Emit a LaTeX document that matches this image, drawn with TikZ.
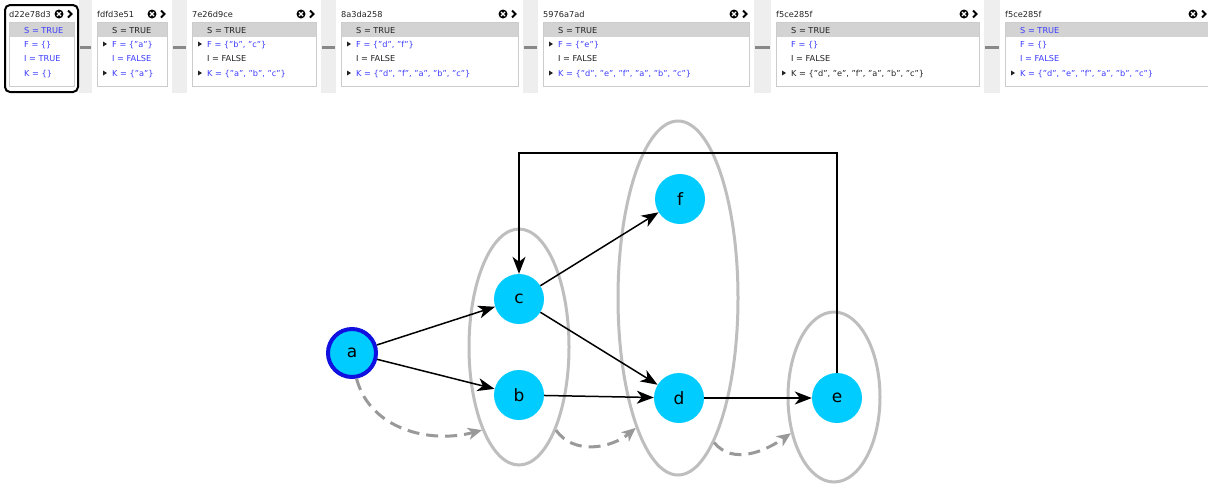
\documentclass[tikz,border=0pt]{standalone}
\usepackage{fontspec}
\setmainfont{DejaVu Sans}
\usetikzlibrary{arrows.meta,shapes.geometric}
\definecolor{nodefill}{RGB}{0,204,255}
\definecolor{nodeborder}{RGB}{16,16,224}
\definecolor{ellgray}{RGB}{190,190,190}
\definecolor{dashgray}{RGB}{153,153,153}
\definecolor{uiblue}{RGB}{60,60,255}
\definecolor{uiblack}{RGB}{34,34,34}
\definecolor{hdrgray}{RGB}{211,211,211}
\definecolor{stripgray}{RGB}{238,238,238}
\definecolor{sepgray}{RGB}{136,136,136}
\definecolor{tblborder}{RGB}{204,204,204}
\tikzset{
  gnode/.style={circle, fill=nodefill, minimum size=50pt, inner sep=0pt, font=\fontsize{17}{17}\selectfont},
  grp/.style={ellipse, draw=ellgray, line width=3pt, inner sep=0pt},
  edge/.style={draw=black, line width=1.5pt, -{Stealth[length=17pt,width=13pt,inset=5pt]}},
  hop/.style={draw=dashgray, line width=3pt, dash pattern=on 12pt off 7pt, -{Stealth[length=14pt,width=12pt,inset=4pt]}},
  ui/.style={font=\fontsize{8.2}{8.2}\selectfont, inner sep=0pt, anchor=base west},
  strip/.style={fill=stripgray, draw=none},
  sepdash/.style={draw=sepgray, line width=3pt},
}
\newcommand\mystrip[2]{%
  \fill[strip] (#1,0) rectangle (#2,93);
  \draw[sepdash] (#1+1,47) -- (#2-1,47);
}
\newcommand\mycard[3]{% left, right, title
  \fill[white, rounded corners=4pt] (#1,3) rectangle (#2,94);
  \node[ui, text=uiblack] at (#1+4,17) {#3};
  \fill[hdrgray] (#1+4,22) rectangle (#2-4,37);
  \draw[tblborder, line width=0.8pt] (#1+4,22) rectangle (#2-4,86);
  \fill[black] (#2-19,14) circle (4.5);
  \draw[white, line width=1.3pt] (#2-21,12) -- (#2-17,16) (#2-21,16) -- (#2-17,12);
  \draw[black, line width=1.8pt] (#2-10,10.5) -- (#2-6.5,14) -- (#2-10,17.5);
}
\newcommand\myrow[4]{% left, y, color, text
  \node[ui, text=#3] at (#1+19,#2+3) {#4};
}
\newcommand\mytri[2]{% left, y
  \fill[uiblack] (#1+10,#2-2.5) -- (#1+14,#2) -- (#1+10,#2+2.5) -- cycle;
}
\begin{document}
\begin{tikzpicture}[x=1pt,y=-1pt]
\useasboundingbox (0,0) rectangle (1208,483);
\fill[white] (0,0) rectangle (1208,483);
% ---------- top panel ----------
\mystrip{79}{92}
\mystrip{172}{187}
\mystrip{321}{336}
\mystrip{523}{538}
\mystrip{754}{771}
\mystrip{984}{1000}
% card 1 (selected)
\mycard{5}{78}{d22e78d3}
\draw[black, line width=2pt, rounded corners=5pt] (5,5) rectangle (78,92);
\myrow{5}{30}{uiblue}{S = TRUE}
\myrow{5}{44}{uiblue}{F = \{\}}
\myrow{5}{58}{uiblue}{I = TRUE}
\myrow{5}{73}{uiblue}{K = \{\}}
% card 2
\mycard{93}{171}{fdfd3e51}
\myrow{93}{30}{uiblack}{S = TRUE}
\mytri{93}{44}\myrow{93}{44}{uiblue}{F = \{"a"\}}
\myrow{93}{58}{uiblue}{I = FALSE}
\mytri{93}{73}\myrow{93}{73}{uiblue}{K = \{"a"\}}
% card 3
\mycard{188}{320}{7e26d9ce}
\myrow{188}{30}{uiblack}{S = TRUE}
\mytri{188}{44}\myrow{188}{44}{uiblue}{F = \{"b", "c"\}}
\myrow{188}{58}{uiblack}{I = FALSE}
\mytri{188}{73}\myrow{188}{73}{uiblue}{K = \{"a", "b", "c"\}}
% card 4
\mycard{337}{522}{8a3da258}
\myrow{337}{30}{uiblack}{S = TRUE}
\mytri{337}{44}\myrow{337}{44}{uiblue}{F = \{"d", "f"\}}
\myrow{337}{58}{uiblack}{I = FALSE}
\mytri{337}{73}\myrow{337}{73}{uiblue}{K = \{"d", "f", "a", "b", "c"\}}
% card 5
\mycard{539}{753}{5976a7ad}
\myrow{539}{30}{uiblack}{S = TRUE}
\mytri{539}{44}\myrow{539}{44}{uiblue}{F = \{"e"\}}
\myrow{539}{58}{uiblack}{I = FALSE}
\mytri{539}{73}\myrow{539}{73}{uiblue}{K = \{"d", "e", "f", "a", "b", "c"\}}
% card 6
\mycard{772}{983}{f5ce285f}
\myrow{772}{30}{uiblack}{S = TRUE}
\myrow{772}{44}{uiblue}{F = \{\}}
\myrow{772}{58}{uiblack}{I = FALSE}
\mytri{772}{73}\myrow{772}{73}{uiblack}{K = \{"d", "e", "f", "a", "b", "c"\}}
% card 7
\mycard{1001}{1212}{f5ce285f}
\myrow{1001}{30}{uiblue}{S = TRUE}
\myrow{1001}{44}{uiblue}{F = \{\}}
\myrow{1001}{58}{uiblue}{I = FALSE}
\mytri{1001}{73}\myrow{1001}{73}{uiblue}{K = \{"d", "e", "f", "a", "b", "c"\}}
% ---------- graph ----------
\node[grp, minimum width=100pt, minimum height=236pt] (E1) at (519,347) {};
\node[grp, minimum width=120pt, minimum height=354pt] (E2) at (678,298) {};
\node[grp, minimum width=92pt, minimum height=170pt] (E3) at (834,397) {};
\node[gnode, draw=nodeborder, line width=4pt, minimum size=48pt] (a) at (352,353) {a};
\node[gnode] (b) at (519,395) {b};
\node[gnode] (c) at (519,299) {c};
\node[gnode] (d) at (679,398) {d};
\node[gnode] (e) at (837,398) {e};
\node[gnode] (f) at (680,199) {f};
\coordinate (top) at (0,153);
\draw[edge] (a) -- (c);
\draw[edge] (a) -- (b);
\draw[edge] (c) -- (f);
\draw[edge] (c) -- (d);
\draw[edge] (b) -- (d);
\draw[edge] (d) -- (e);
\draw[edge] (e) -- (e |- top) -| (c);
\draw[hop] (a.-80) to[out=-75, in=195] (E1.-114);
\draw[hop] (E1.-66) to[out=-55, in=220] (E2.-108);
\draw[hop] (E2.-76) to[out=-50, in=215] (E3.-140);
\end{tikzpicture}
\end{document}
